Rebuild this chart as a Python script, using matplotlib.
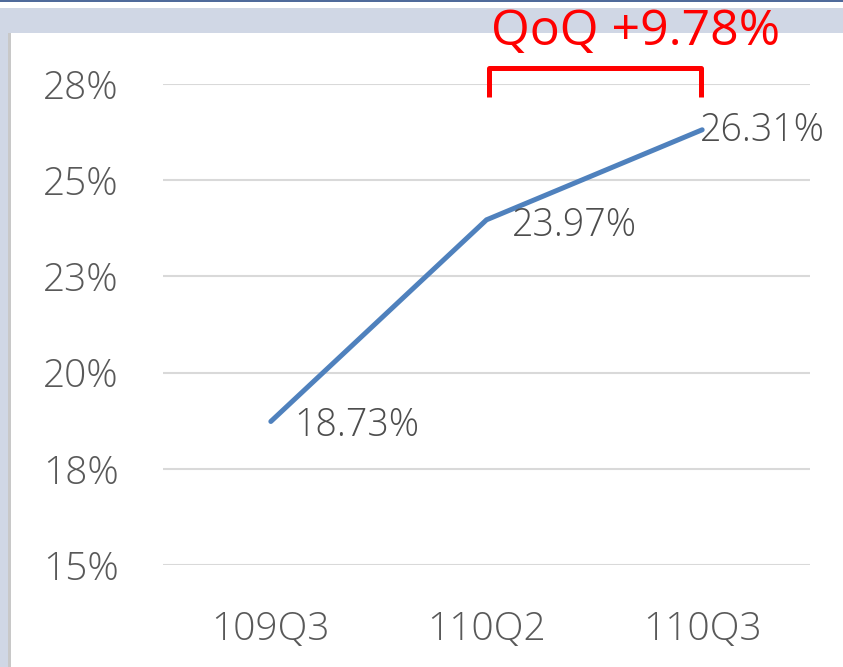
import matplotlib.pyplot as plt
from matplotlib.patches import Rectangle

quarters = ["109Q3", "110Q2", "110Q3"]
ratio = [18.73, 23.97, 26.31]
value_labels = ["18.73%", "23.97%", "26.31%"]
yticks = [15, 17.5, 20, 22.5, 25, 27.5]
ytick_labels = ["15%", "18%", "20%", "23%", "25%", "28%"]
qoq_text = "QoQ +9.78%"

plt.rcParams["font.family"] = ["Open Sans", "DejaVu Sans"]
grey_txt = "#595959"

W, H = 843, 667
fig = plt.figure(figsize=(W / 100, H / 100), dpi=100, facecolor="#d0d7e5")

# window frame bits
frame = [
    ((0, 1 - 8 / H), 1, 6 / H, "white"),
    ((0, 1 - 2 / H), 1, 2 / H, "#4f6a9a"),
    ((8 / W, 0), 3 / W, 1 - 33 / H, "#c8c8c8"),
    ((11 / W, 0), 1, 1 - 33 / H, "white"),
]
for xy, w, h, c in frame:
    fig.patches.append(Rectangle(xy, w, h, transform=fig.transFigure,
                                 facecolor=c, edgecolor="none", zorder=-5))

ax = fig.add_axes([163 / W, (H - 565) / H, 647 / W, (565 - 84) / H])
ax.set_zorder(2)
ax.set_facecolor("none")
ax.set_xlim(-0.5, 2.5)
ax.set_ylim(15, 27.5)

ax.set_yticks(yticks)
ax.set_yticklabels(ytick_labels)
ax.set_xticks(range(len(quarters)))
ax.set_xticklabels(quarters)
ax.tick_params(axis="y", length=0, pad=32, labelsize=28, labelcolor=grey_txt)
ax.tick_params(axis="x", length=0, pad=33, labelsize=28, labelcolor=grey_txt)
for lab in ax.get_xticklabels() + ax.get_yticklabels():
    lab.set_fontweight("light")
for s in ax.spines.values():
    s.set_visible(False)
ax.grid(axis="y", color="#d9d9d9", linewidth=1.5)
ax.set_axisbelow(True)

ax.plot(range(len(quarters)), ratio, color="#4f81bd", linewidth=3.6,
        solid_capstyle="round", solid_joinstyle="miter", clip_on=False, zorder=3)

offsets = [(17, -3), (18, -4), (-2, -1)]
for i, (v, lab) in enumerate(zip(ratio, value_labels)):
    ax.annotate(lab, (i, v), xytext=offsets[i], textcoords="offset points",
                ha="left", va="center", fontsize=27, color="#4d4d4d",
                fontweight="light", annotation_clip=False)

# QoQ bracket between the last two quarters
ax.plot([1.01, 1.01, 1.995, 1.995], [27.16, 27.92, 27.92, 27.16], color="red",
        linewidth=3.6, solid_joinstyle="round", solid_capstyle="butt",
        clip_on=False, zorder=4)
ax.text(1.69, 28.85, qoq_text, ha="center", va="center", fontsize=36, color="red",
        clip_on=False)

fig.savefig("out.png", dpi=100, facecolor=fig.get_facecolor())
